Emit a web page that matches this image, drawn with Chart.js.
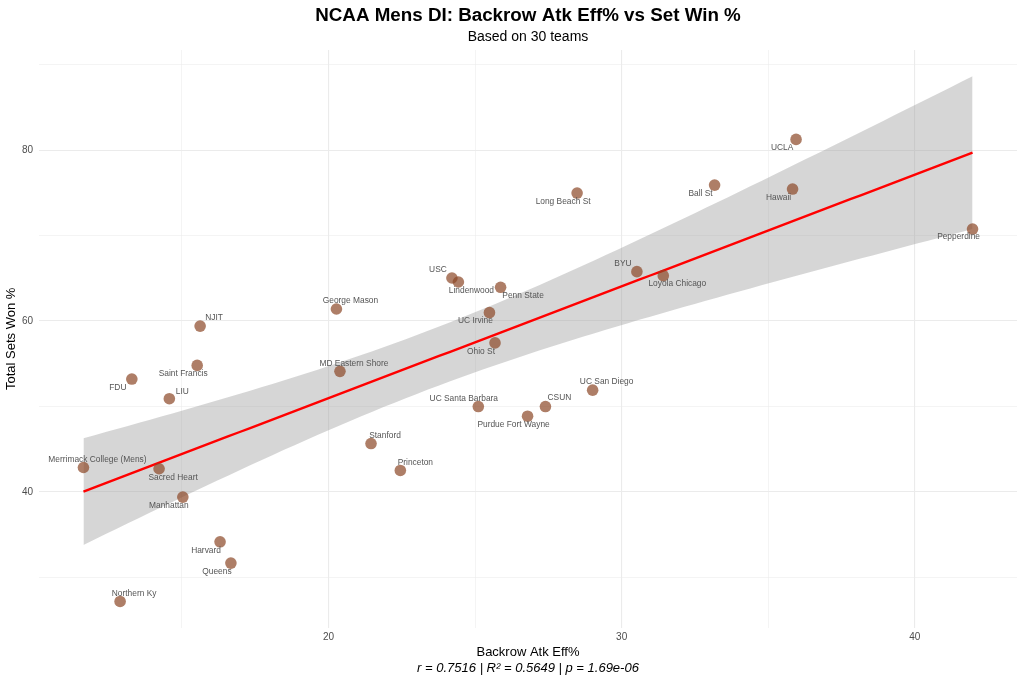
<!DOCTYPE html>
<html><head><meta charset="utf-8">
<script src="https://cdn.jsdelivr.net/npm/chart.js@4.4.1/dist/chart.umd.min.js"></script>
<style>html,body{margin:0;padding:0;background:#fff;}canvas{display:block;}</style>
</head><body>
<canvas id="c" width="1024" height="683"></canvas>
<script>
// ---------------- data ----------------
const teams = ['George Mason','NJIT','Saint Francis','FDU','LIU','MD Eastern Shore','Stanford','Princeton',
  'Merrimack College (Mens)','Sacred Heart','Manhattan','Harvard','Queens','Northern Ky','USC','Lindenwood',
  'Penn State','UC Irvine','Ohio St','UC Santa Barbara','Purdue Fort Wayne','CSUN','UC San Diego','BYU',
  'Loyola Chicago','Long Beach St','Ball St','UCLA','Hawaii','Pepperdine'];
const backrowEff = [20.27,15.62,15.52,13.29,14.57,20.39,21.45,22.45,
  11.64,14.22,15.03,16.30,16.67,12.89,24.21,24.43,
  25.87,25.49,25.68,25.11,26.79,27.40,29.01,30.52,
  31.42,28.48,33.17,35.95,35.83,41.97];
const setWinPct = [61.4,59.4,54.8,53.2,50.9,54.1,45.65,42.5,
  42.85,42.7,39.38,34.15,31.66,27.17,65.03,64.56,
  63.94,60.97,57.43,49.98,48.85,49.98,51.9,65.77,
  65.3,74.97,75.9,81.25,75.44,70.76];
const xMajorTicks = [20,30,40];
const yMajorTicks = [40,60,80];
const titleText = 'NCAA Mens DI: Backrow Atk Eff% vs Set Win %';
const subtitleText = 'Based on 30 teams';
const captionText = 'r = 0.7516 | R\u00B2 = 0.5649 | p = 1.69e-06';
const xTitle = 'Backrow Atk Eff%';
const yTitle = 'Total Sets Won %';

// ---------------- label placement (layout only) ----------------
const labelNudge = [[14,-8],[14,-8],[-14,8.5],[-14,8.5],[13,-7.5],[14,-8],[14,-8],[15,-8],
  [14,-8],[14,8.5],[-14,8.5],[-14,8.5],[-14,8.5],[14,-8],[-14,-8],[13,8.5],
  [22.5,8.5],[-14,8.5],[-14,8.5],[-14.5,-8],[-14,8.5],[14,-8.5],[14,-8],[-14,-8],
  [14,8.5],[-14,8.5],[-14,8.5],[-14,8.5],[-14,8.5],[-14,8]];

// ---------------- linear fit with 95% CI (geom_smooth lm) ----------------
const n = backrowEff.length;
const mx = backrowEff.reduce((a,b)=>a+b,0)/n;
const my = setWinPct.reduce((a,b)=>a+b,0)/n;
let sxx=0, sxy=0;
for (let i=0;i<n;i++){ sxx += (backrowEff[i]-mx)**2; sxy += (backrowEff[i]-mx)*(setWinPct[i]-my); }
const slope = sxy/sxx, icpt = my - slope*mx;
let sse=0;
for (let i=0;i<n;i++){ sse += (setWinPct[i]-(icpt+slope*backrowEff[i]))**2; }
const sRes = Math.sqrt(sse/(n-2));
const tCrit = 2.048407; // t(0.975, df=28)
const xLo = Math.min(...backrowEff), xHi = Math.max(...backrowEff);
const fitPts=[], upPts=[], loPts=[];
const steps = 80;
for (let k=0;k<=steps;k++){
  const xv = xLo + (xHi-xLo)*k/steps;
  const yv = icpt + slope*xv;
  const se = sRes*Math.sqrt(1/n + (xv-mx)**2/sxx);
  fitPts.push({x:xv,y:yv}); upPts.push({x:xv,y:yv+tCrit*se}); loPts.push({x:xv,y:yv-tCrit*se});
}
const yAll = setWinPct.concat(upPts.map(p=>p.y), loPts.map(p=>p.y));
const yLo = Math.min(...yAll), yHi = Math.max(...yAll);
const xPad = (xHi-xLo)*0.05, yPad = (yHi-yLo)*0.05;

const FONT = "'Liberation Sans', Arial, Helvetica, sans-serif";
Chart.defaults.font.family = FONT;

const textPlugin = {
  id: 'texts',
  beforeDraw(chart){
    const c = chart.ctx; c.save(); c.fillStyle='#fff'; c.fillRect(0,0,chart.width,chart.height); c.restore();
  },
  afterDatasetsDraw(chart){
    const c = chart.ctx, xs = chart.scales.x, ys = chart.scales.y;
    c.save();
    c.font = "8.4px " + FONT; c.fillStyle = '#555555'; c.textAlign='center'; c.textBaseline='middle';
    for (let i=0;i<teams.length;i++){
      const px = xs.getPixelForValue(backrowEff[i]), py = ys.getPixelForValue(setWinPct[i]);
      c.fillText(teams[i], px + labelNudge[i][0], py + labelNudge[i][1]);
    }
    c.restore();
  },
  afterDraw(chart){
    const c = chart.ctx, a = chart.chartArea, cx = (a.left+a.right)/2;
    c.save(); c.fillStyle='#000'; c.textAlign='center'; c.textBaseline='alphabetic';
    c.font = "bold 18.8px " + FONT; c.fillText(titleText, cx, 21);
    c.font = "14px " + FONT; c.fillText(subtitleText, cx, 41.3);
    c.textBaseline='middle';
    c.font = "italic 13px " + FONT; c.fillText(captionText, cx, 668.5);
    c.restore();
  }
};

new Chart(document.getElementById('c'), {
  type: 'scatter',
  data: { datasets: [
    { label:'Teams', data: backrowEff.map((x,i)=>({x, y:setWinPct[i]})), order:0,
      backgroundColor:'rgba(139,71,38,0.7)', borderWidth:0, pointRadius:5.8, pointHoverRadius:5.8 },
    { label:'Fit', data: fitPts, order:1, showLine:true, borderColor:'#ff0000', borderWidth:2.4,
      pointRadius:0, fill:false },
    { label:'Upper', data: upPts, order:2, showLine:true, borderWidth:0, borderColor:'rgba(0,0,0,0)', pointRadius:0, fill:false },
    { label:'Lower', data: loPts, order:3, showLine:true, borderWidth:0, borderColor:'rgba(0,0,0,0)', pointRadius:0,
      fill:'-1', backgroundColor:'rgba(153,153,153,0.4)' }
  ]},
  options: {
    responsive:false, animation:false, devicePixelRatio:1,
    layout:{ padding:{ top:50, right:7, left:0, bottom:0 } },
    plugins:{ legend:{display:false}, tooltip:{enabled:false}, title:{display:false} },
    scales:{
      x:{ type:'linear', min:xLo-xPad, max:xHi+xPad,
        afterFit(s){ s.height = 55.3; },
        border:{display:false},
        grid:{ drawTicks:false, color:'#ebebeb',
          lineWidth: c => (c.tick && xMajorTicks.includes(c.tick.value)) ? 1.1 : 0.55 },
        ticks:{ stepSize:5, includeBounds:false, autoSkip:false, maxRotation:0, padding:4,
          color:'#4d4d4d', font:{size:10},
          callback: v => xMajorTicks.includes(v) ? String(v) : '' },
        title:{ display:true, text:xTitle, color:'#000', font:{size:13}, padding:{top:0,bottom:23.2} } },
      y:{ type:'linear', min:yLo-yPad, max:yHi+yPad,
        afterFit(s){ s.width = 39; },
        border:{display:false},
        grid:{ drawTicks:false, color:'#ebebeb',
          lineWidth: c => (c.tick && yMajorTicks.includes(c.tick.value)) ? 1.1 : 0.55 },
        ticks:{ stepSize:10, includeBounds:false, autoSkip:false, padding:6,
          color:'#4d4d4d', font:{size:10},
          callback: v => yMajorTicks.includes(v) ? String(v) : '' },
        title:{ display:true, text:yTitle, color:'#000', font:{size:13}, padding:{top:4,bottom:0} } }
    }
  },
  plugins:[textPlugin]
});
</script>
</body></html>
